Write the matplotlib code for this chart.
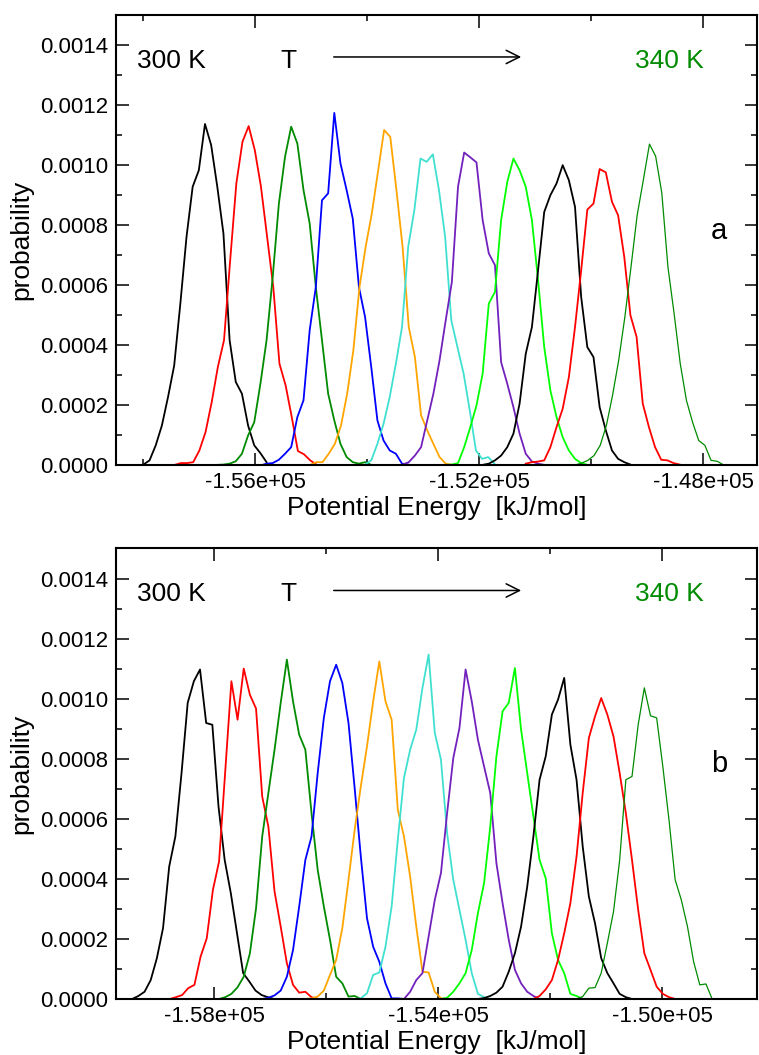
import numpy as np
import matplotlib
matplotlib.use('Agg')
import matplotlib.pyplot as plt
from matplotlib.ticker import FixedLocator, MultipleLocator, FuncFormatter

plt.rcParams.update({'font.family': 'Liberation Sans', 'font.size': 16})

# probability values are stored in units of 1e-4, energies in kJ/mol
# ---- panel a ----
e_a1 = [-158000, -157890, -157780, -157670, -157560, -157450, -157340, -157230, -157120, -157010, -156900,
        -156790, -156680, -156570, -156460, -156350, -156240, -156130, -156020, -155910, -155800]
p_a1 = [0.03, 0.17, 0.67, 1.33, 2.28, 3.33, 5.39, 7.61, 9.28, 9.83, 11.37, 10.67, 9.28, 7.72, 4.17, 2.78, 2.39,
        1.33, 0.67, 0.41, 0.11]
e_a2 = [-157440, -157330, -157220, -157110, -157000, -156890, -156780, -156670, -156560, -156450, -156340, -156230,
        -156120, -156010, -155900, -155790, -155680, -155570, -155460, -155350, -155240, -155130, -155020, -154910]
p_a2 = [0.02, 0.08, 0.08, 0.11, 0.5, 1.11, 2.11, 3.28, 4.17, 6.83, 9.39, 10.78, 11.3, 10.5, 9.28, 7.61, 5.94, 3.39,
        2.67, 1.61, 0.48, 0.37, 0.17, 0.03]
e_a3 = [-156680, -156570, -156460, -156350, -156240, -156130, -156020, -155910, -155800, -155690, -155580, -155470,
        -155360, -155250, -155140, -155030, -154920, -154810, -154700, -154590, -154480, -154370, -154260, -154150,
        -154040, -153930]
p_a3 = [0.02, 0.03, 0.06, 0.14, 0.39, 1.0, 1.44, 2.72, 4.17, 6.28, 8.72, 10.28, 11.28, 10.72, 9.17, 8.06, 5.94, 4.17,
        2.39, 1.5, 0.72, 0.28, 0.11, 0.06, 0.11, 0.02]
e_a4 = [-155910, -155800, -155690, -155580, -155470, -155360, -155250, -155140, -155030, -154920, -154810, -154700,
        -154590, -154480, -154370, -154260, -154150, -154040, -153930, -153820, -153710, -153600, -153490, -153380,
        -153270]
p_a4 = [0.0, 0.06, 0.08, 0.19, 0.39, 0.61, 1.61, 2.17, 4.5, 5.94, 8.83, 9.06, 11.74, 10.06, 9.17, 8.22, 5.94, 4.94,
        3.28, 1.5, 0.83, 0.5, 0.39, 0.06, 0.03]
e_a5 = [-155020, -154910, -154800, -154690, -154580, -154470, -154360, -154250, -154140, -154030, -153920, -153810,
        -153700, -153590, -153480, -153370, -153260, -153150, -153040, -152930, -152820, -152710, -152600, -152490]
p_a5 = [0.02, 0.11, 0.11, 0.39, 0.72, 1.33, 2.39, 3.83, 5.94, 7.28, 8.39, 9.78, 11.17, 10.94, 9.17, 7.28, 4.61, 3.61,
        1.67, 1.17, 0.72, 0.28, 0.06, 0.02]
e_a6 = [-154040, -153930, -153820, -153710, -153600, -153490, -153380, -153270, -153160, -153050, -152940, -152830,
        -152720, -152610, -152500, -152390, -152280, -152170, -152060, -151950, -151840, -151730]
p_a6 = [0.03, 0.17, 0.72, 1.39, 2.28, 3.39, 4.61, 7.28, 8.5, 10.22, 10.11, 10.36, 9.17, 7.61, 4.83, 3.94, 3.06, 1.83,
        0.5, 0.22, 0.28, 0.06]
e_a7 = [-153370, -153260, -153150, -153040, -152930, -152820, -152710, -152600, -152490, -152380, -152270, -152160,
        -152050, -151940, -151830, -151720, -151610, -151500, -151390, -151280, -151170, -151060, -150950, -150840]
p_a7 = [0.03, 0.11, 0.33, 0.61, 1.5, 2.39, 3.5, 4.83, 6.11, 9.28, 10.42, 10.26, 10.09, 8.17, 7.06, 6.67, 3.44, 2.72,
        1.94, 1.06, 0.39, 0.13, 0.06, 0.02]
e_a8 = [-152600, -152490, -152380, -152270, -152160, -152050, -151940, -151830, -151720, -151610, -151500, -151390,
        -151280, -151170, -151060, -150950, -150840, -150730, -150620, -150510, -150400, -150290, -150180, -150070]
p_a8 = [0.02, 0.03, 0.08, 0.61, 1.28, 2.0, 3.06, 5.39, 5.78, 8.17, 9.44, 10.22, 9.83, 9.28, 8.17, 6.17, 3.94, 2.5,
        1.61, 0.94, 0.5, 0.22, 0.08, 0.02]
e_a9 = [-151940, -151830, -151720, -151610, -151500, -151390, -151280, -151170, -151060, -150950, -150840, -150730,
        -150620, -150510, -150400, -150290, -150180, -150070, -149960, -149850, -149740, -149630, -149520, -149410,
        -149300]
p_a9 = [0.02, 0.06, 0.17, 0.33, 0.61, 1.06, 2.06, 3.72, 4.61, 6.5, 8.44, 9.0, 9.39, 10.0, 9.5, 8.61, 5.61, 3.94,
        3.61, 1.94, 1.17, 0.5, 0.22, 0.11, 0.03]
e_a10 = [-151170, -151060, -150950, -150840, -150730, -150620, -150510, -150400, -150290, -150180, -150070, -149960,
         -149850, -149740, -149630, -149520, -149410, -149300, -149190, -149080, -148970, -148860, -148750, -148640,
         -148530, -148420]
p_a10 = [0.06, 0.11, 0.13, 0.17, 0.61, 1.28, 1.89, 2.94, 4.61, 6.5, 8.52, 8.72, 9.87, 9.76, 8.78, 8.33, 6.94, 5.0,
         4.28, 2.06, 1.28, 0.61, 0.19, 0.17, 0.08, 0.03]
e_a11 = [-150280, -150170, -150060, -149950, -149840, -149730, -149620, -149510, -149400, -149290, -149180, -149070,
         -148960, -148850, -148740, -148630, -148520, -148410, -148300, -148190, -148080, -147970, -147860, -147750,
         -147640]
p_a11 = [0.02, 0.08, 0.17, 0.33, 0.67, 1.33, 2.33, 3.5, 4.94, 6.61, 8.33, 9.5, 10.7, 10.3, 9.08, 6.61, 5.06, 3.39,
         2.17, 1.44, 0.83, 0.67, 0.17, 0.14, 0.02]

# ---- panel b ----
e_b1 = [-159460, -159350, -159240, -159130, -159020, -158910, -158800, -158690, -158580, -158470, -158360, -158250,
        -158140, -158030, -157920, -157810, -157700, -157590, -157480, -157370, -157260, -157150, -157040, -156930]
p_b1 = [0.0, 0.1, 0.24, 0.63, 1.36, 2.36, 4.41, 5.41, 7.52, 9.86, 10.58, 10.97, 9.19, 9.13, 6.41, 4.63, 3.52, 2.19,
        0.86, 0.58, 0.28, 0.13, 0.06, 0.0]
e_b2 = [-158790, -158680, -158570, -158460, -158350, -158240, -158130, -158020, -157910, -157800, -157690, -157580,
        -157470, -157360, -157250, -157140, -157030, -156920, -156810, -156700, -156590, -156480, -156370, -156260,
        -156150]
p_b2 = [0.0, 0.06, 0.13, 0.36, 0.47, 1.41, 2.02, 3.63, 4.58, 7.58, 10.58, 9.3, 11.0, 10.13, 9.67, 6.74, 5.74, 3.58,
        2.41, 1.19, 0.47, 0.21, 0.24, 0.06, 0.0]
e_b3 = [-157910, -157800, -157690, -157580, -157470, -157360, -157250, -157140, -157030, -156920, -156810, -156700,
        -156590, -156480, -156370, -156260, -156150, -156040, -155930, -155820, -155710, -155600, -155490, -155380]
p_b3 = [0.0, 0.06, 0.17, 0.39, 0.74, 1.52, 3.02, 5.41, 6.86, 8.3, 9.86, 11.3, 9.91, 8.8, 8.3, 6.19, 4.3, 3.08, 1.97,
        0.74, 0.52, 0.08, 0.1, 0.0]
e_b4 = [-157140, -157030, -156920, -156810, -156700, -156590, -156480, -156370, -156260, -156150, -156040, -155930,
        -155820, -155710, -155600, -155490, -155380, -155270, -155160, -155050, -154940, -154830, -154720, -154610]
p_b4 = [0.0, 0.04, 0.12, 0.28, 0.74, 1.63, 3.08, 4.63, 5.41, 7.52, 9.36, 10.58, 11.13, 10.52, 9.19, 7.02, 4.74, 2.69,
        1.74, 1.24, 0.52, 0.02, 0.02, 0.0]
e_b5 = [-156370, -156260, -156150, -156040, -155930, -155820, -155710, -155600, -155490, -155380, -155270, -155160,
        -155050, -154940, -154830, -154720, -154610, -154500, -154390, -154280, -154170, -154060, -153950, -153840]
p_b5 = [0.0, 0.02, 0.08, 0.28, 0.8, 1.3, 2.36, 3.97, 5.63, 7.08, 8.41, 9.91, 11.24, 9.91, 9.3, 6.3, 5.41, 4.08, 2.41,
        0.91, 0.88, 0.24, 0.02, 0.0]
e_b6 = [-155490, -155380, -155270, -155160, -155050, -154940, -154830, -154720, -154610, -154500, -154390, -154280,
        -154170, -154060, -153950, -153840, -153730, -153620, -153510, -153400, -153290, -153180, -153070]
p_b6 = [0.0, 0.02, 0.19, 0.8, 0.88, 1.74, 3.08, 5.3, 7.36, 8.3, 8.97, 10.36, 11.47, 8.86, 7.97, 5.52, 3.97, 2.97,
        1.97, 0.86, 0.17, 0.06, 0.0]
e_b7 = [-154610, -154500, -154390, -154280, -154170, -154060, -153950, -153840, -153730, -153620, -153510, -153400,
        -153290, -153180, -153070, -152960, -152850, -152740, -152630, -152520, -152410, -152300, -152190]
p_b7 = [0.0, 0.24, 0.63, 0.86, 2.08, 3.3, 4.19, 6.19, 8.02, 9.02, 10.97, 9.91, 8.63, 7.74, 6.86, 4.52, 3.19, 1.97,
        0.97, 0.52, 0.24, 0.1, 0.0]
e_b8 = [-153950, -153840, -153730, -153620, -153510, -153400, -153290, -153180, -153070, -152960, -152850, -152740,
        -152630, -152520, -152410, -152300, -152190, -152080, -151970, -151860, -151750, -151640, -151530, -151420]
p_b8 = [0.0, 0.04, 0.24, 0.52, 0.86, 1.63, 2.86, 3.86, 5.74, 8.08, 9.58, 9.86, 11.02, 8.97, 7.52, 6.08, 4.63, 4.02,
        2.19, 1.3, 0.86, 0.17, 0.1, 0.0]
e_b9 = [-153290, -153180, -153070, -152960, -152850, -152740, -152630, -152520, -152410, -152300, -152190, -152080,
        -151970, -151860, -151750, -151640, -151530, -151420, -151310, -151200, -151090, -150980, -150870, -150760,
        -150650, -150540]
p_b9 = [0.0, 0.03, 0.1, 0.21, 0.41, 0.91, 1.52, 2.41, 3.74, 5.41, 7.3, 8.08, 9.47, 9.97, 10.69, 8.47, 7.3, 5.08,
        3.41, 2.52, 1.36, 0.86, 0.52, 0.17, 0.06, 0.0]
e_b10 = [-152300, -152190, -152080, -151970, -151860, -151750, -151640, -151530, -151420, -151310, -151200, -151090,
         -150980, -150870, -150760, -150650, -150540, -150430, -150320, -150210, -150100, -149990, -149880, -149770]
p_b10 = [0.0, 0.1, 0.32, 0.63, 1.3, 2.19, 3.19, 4.74, 6.86, 8.69, 9.41, 10.02, 9.47, 8.74, 7.52, 6.19, 4.63, 2.97,
         1.52, 0.97, 0.41, 0.17, 0.06, 0.0]
e_b11 = [-151530, -151420, -151310, -151200, -151090, -150980, -150870, -150760, -150650, -150540, -150430, -150320,
         -150210, -150100, -149990, -149880, -149770, -149660, -149550, -149440, -149330, -149220, -149110]
p_b11 = [0.0, 0.08, 0.36, 0.38, 0.86, 1.86, 2.91, 4.63, 7.3, 7.41, 9.13, 10.36, 9.43, 9.36, 7.74, 5.97, 3.97, 3.3,
         2.41, 1.24, 0.47, 0.5, 0.0]

# grace-like colour sequence, 300 K -> 340 K
colors = ['black', 'red', '#008b00', 'blue', '#ffa500', '#40e0d0', '#7221bc', '#00ff00', 'black', 'red', '#008b00']
widths = [1.3] * 10 + [0.9]

curves_a = [(e_a1, p_a1), (e_a2, p_a2), (e_a3, p_a3), (e_a4, p_a4), (e_a5, p_a5), (e_a6, p_a6),
            (e_a7, p_a7), (e_a8, p_a8), (e_a9, p_a9), (e_a10, p_a10), (e_a11, p_a11)]
curves_b = [(e_b1, p_b1), (e_b2, p_b2), (e_b3, p_b3), (e_b4, p_b4), (e_b5, p_b5), (e_b6, p_b6),
            (e_b7, p_b7), (e_b8, p_b8), (e_b9, p_b9), (e_b10, p_b10), (e_b11, p_b11)]

xlims = [(-158490, -147040), (-159750, -148310)]
major_x = [[-156000, -152000, -148000], [-158000, -154000, -150000]]
minor_x = [[-158000, -154000, -150000], [-156000, -152000, -148000]]
panel_tags = ['a', 'b']

fig = plt.figure(figsize=(7.59, 10.55), dpi=100)
ax_a = fig.add_axes([0.1528, 0.5588, 0.8445, 0.4270])
ax_b = fig.add_axes([0.1528, 0.0531, 0.8445, 0.4270])

for i, (ax, curves) in enumerate(zip([ax_a, ax_b], [curves_a, curves_b])):
    for (e, p), c, lw in zip(curves, colors, widths):
        ax.plot(e, np.array(p) * 1e-4, color=c, lw=lw)
    ax.set_xlim(*xlims[i])
    ax.set_ylim(0, 0.0015)
    ax.xaxis.set_major_locator(FixedLocator(major_x[i]))
    ax.xaxis.set_minor_locator(FixedLocator(minor_x[i]))
    ax.yaxis.set_major_locator(MultipleLocator(0.0002))
    ax.yaxis.set_minor_locator(MultipleLocator(0.0001))
    ax.xaxis.set_major_formatter(FuncFormatter(lambda v, pos: '%.2e' % v))
    ax.yaxis.set_major_formatter(FuncFormatter(lambda v, pos: '%.4f' % v))
    ax.tick_params(which='both', direction='in', top=True, right=True, width=1.1, labelsize=16)
    ax.tick_params(which='major', length=9)
    ax.tick_params(which='minor', length=4.5)
    ax.tick_params(axis='y', pad=5.5)
    ax.tick_params(axis='x', pad=5)
    for s in ax.spines.values():
        s.set_linewidth(1.5)
    ax.set_xlabel('Potential Energy  [kJ/mol]', fontsize=19, labelpad=2)
    ax.set_ylabel('probability', fontsize=19)
    ax.yaxis.set_label_coords(-0.1295, 0.5)

    ax.text(0.033, 0.8824, '300 K', transform=ax.transAxes, fontsize=19, va='baseline', ha='left')
    ax.text(0.256, 0.8824, 'T', transform=ax.transAxes, fontsize=19, va='baseline', ha='left')
    ax.text(0.8097, 0.8824, '340 K', transform=ax.transAxes, fontsize=19, va='baseline', ha='left',
            color='#008b00')
    ax.annotate('', xy=(0.6365, 0.9068), xytext=(0.3354, 0.9068), xycoords='axes fraction',
                arrowprops=dict(arrowstyle='->', lw=1.1, color='black', mutation_scale=24))
    ax.text(0.9407, 0.503, panel_tags[i], transform=ax.transAxes, fontsize=21, va='baseline', ha='center')

fig.savefig('out.png', dpi=100)
